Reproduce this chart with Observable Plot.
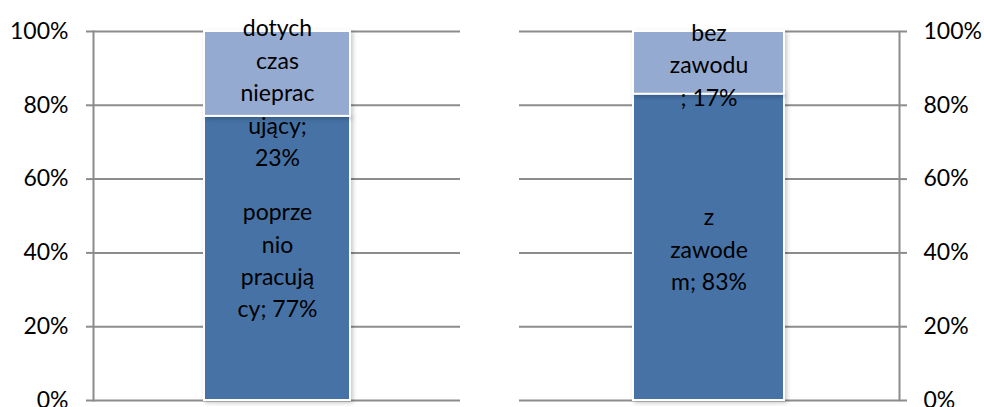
<!DOCTYPE html>
<html>
<head>
<meta charset="utf-8">
<script src="https://cdn.jsdelivr.net/npm/d3@7"></script>
<script src="https://cdn.jsdelivr.net/npm/@observablehq/plot@0.6"></script>
<style>
  html, body { margin: 0; padding: 0; background: #fff; overflow: hidden; }
  #wrap { position: relative; width: 984px; height: 407px; }
  #wrap > div, #wrap > svg { position: absolute; top: 0; }
  g[aria-label="bar"] rect { filter: drop-shadow(2px 2px 2px rgba(0,0,0,0.22)); }
</style>
</head>
<body>
<div id="wrap"></div>
<script>
// ---- data ----
const leftSegments = ["poprzednio pracujący", "dotychczas niepracujący"];
const leftValues = [77, 23];
const leftLabels = ["poprze\nnio\npracują\ncy; 77%", "dotych\nczas\nnieprac\nujący;\n23%"];

const rightSegments = ["z zawodem", "bez zawodu"];
const rightValues = [83, 17];
const rightLabels = ["z\nzawode\nm; 83%", "bez\nzawodu\n; 17%"];

const yTicks = [0, 20, 40, 60, 80, 100];

// ---- styles ----
const darkBlue = "#4672a6";
const lightBlue = "#95aad0";
const gridGray = "#8c8c8c";
const font = "Lato, 'Open Sans', sans-serif";
const fs = 23;

function panel(segments, values, labels, side, width, mLeft, mRight) {
  const rows = segments.map((s, i) => ({group: "A", seg: s, value: values[i], label: labels[i], idx: i}));
  const isLeft = side === "left";
  // label of top segment in left panel is nudged down (as in source) to stay within chart
  const shifted = rows.filter(d => isLeft && d.idx === 1);
  const normal = rows.filter(d => !(isLeft && d.idx === 1));
  return Plot.plot({
    width, height: 407,
    marginTop: 31, marginBottom: 7, marginLeft: mLeft, marginRight: mRight,
    style: {fontFamily: font, fontSize: fs + "px", color: "#000", background: "transparent", overflow: "visible"},
    x: {type: "band", domain: ["A"], padding: 0.43, axis: null},
    y: {domain: [0, 100], axis: null},
    color: {domain: segments, range: [darkBlue, lightBlue]},
    marks: [
      Plot.ruleY(yTicks, {stroke: gridGray, strokeWidth: 2}),
      Plot.axisY({anchor: side, ticks: yTicks, tickSize: 7, tickPadding: isLeft ? 18 : 17,
        tickFormat: d => d + "%", stroke: gridGray, strokeWidth: 2, fill: "#000", fontSize: fs, label: null}),
      Plot.frame({anchor: side, stroke: gridGray, strokeWidth: 2}),
      Plot.barY(rows, {x: "group", y: "value", fill: "seg", stroke: "#fff", strokeWidth: 2}),
      Plot.text(normal, Plot.stackY({x: "group", y: "value", z: "seg", text: "label", order: null,
        fill: "#000", fontSize: fs, lineHeight: 1.41})),
      Plot.text(rows, Plot.stackY({x: "group", y: "value", z: "seg", text: d => (isLeft && d.idx === 1) ? d.label : "", order: null,
        fill: "#000", fontSize: fs, lineHeight: 1.41, dy: 17}))
    ]
  });
}

const wrap = document.getElementById("wrap");
const left = panel(leftSegments, leftValues, leftLabels, "left", 490, 93, 30);
left.style.left = "0px";
const right = panel(rightSegments, rightValues, rightLabels, "right", 494, 29, 85);
right.style.left = "490px";
wrap.appendChild(left);
wrap.appendChild(right);
</script>
</body>
</html>
